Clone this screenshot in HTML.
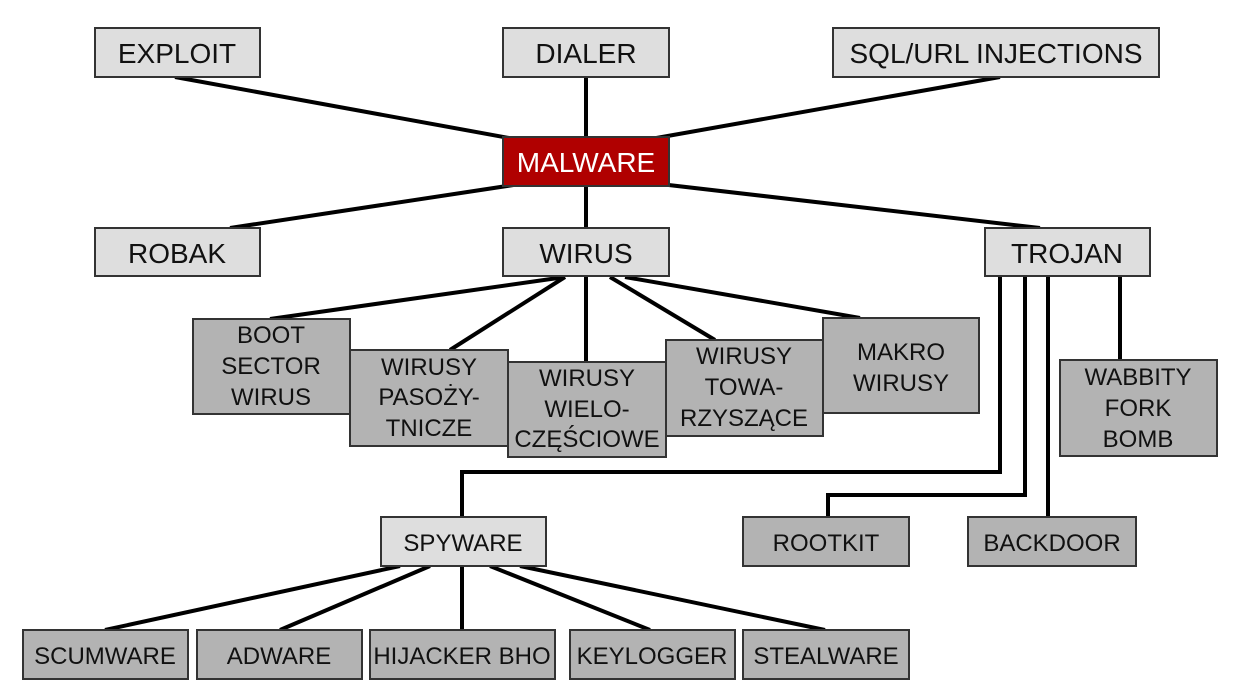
<!DOCTYPE html>
<html><head><meta charset="utf-8"><style>
body{margin:0;background:#fff;}
svg text{font-family:"Liberation Sans",sans-serif;fill:#111;text-anchor:middle;}
</style></head><body>
<svg width="1247" height="692" viewBox="0 0 1247 692" xmlns="http://www.w3.org/2000/svg">
<g stroke="#000" stroke-width="4" fill="none">
<line x1="175" y1="77" x2="520" y2="140"/>
<line x1="586" y1="77" x2="586" y2="137"/>
<line x1="1000" y1="77" x2="645" y2="140"/>
<line x1="520" y1="184" x2="230" y2="228"/>
<line x1="586" y1="186" x2="586" y2="228"/>
<line x1="660" y1="184" x2="1040" y2="228"/>
<line x1="565" y1="277" x2="270" y2="319"/>
<line x1="565" y1="277" x2="450" y2="350"/>
<line x1="586" y1="277" x2="586" y2="362"/>
<line x1="610" y1="277" x2="715" y2="340"/>
<line x1="625" y1="277" x2="860" y2="318"/>
<polyline points="1000,277 1000,472 462,472 462,517"/>
<polyline points="1025,277 1025,495 828,495 828,517"/>
<line x1="1048" y1="277" x2="1048" y2="517"/>
<line x1="1120" y1="277" x2="1120" y2="360"/>
<line x1="400" y1="566" x2="105" y2="630"/>
<line x1="430" y1="566" x2="280" y2="630"/>
<line x1="462" y1="566" x2="462" y2="630"/>
<line x1="490" y1="566" x2="650" y2="630"/>
<line x1="520" y1="566" x2="825" y2="630"/>
</g>
<g stroke="#333" stroke-width="2">
<rect x="95" y="28" width="165" height="49" fill="#dedede"/>
<rect x="503" y="28" width="166" height="49" fill="#dedede"/>
<rect x="833" y="28" width="326" height="49" fill="#dedede"/>
<rect x="503" y="137" width="166" height="49" fill="#b00000"/>
<rect x="95" y="228" width="165" height="48" fill="#dedede"/>
<rect x="503" y="228" width="166" height="48" fill="#dedede"/>
<rect x="985" y="228" width="165" height="48" fill="#dedede"/>
<rect x="193" y="319" width="157" height="95" fill="#b3b3b3"/>
<rect x="350" y="350" width="158" height="96" fill="#b3b3b3"/>
<rect x="508" y="362" width="158" height="95" fill="#b3b3b3"/>
<rect x="666" y="340" width="157" height="96" fill="#b3b3b3"/>
<rect x="823" y="318" width="156" height="95" fill="#b3b3b3"/>
<rect x="1060" y="360" width="157" height="96" fill="#b3b3b3"/>
<rect x="381" y="517" width="165" height="49" fill="#dedede"/>
<rect x="743" y="517" width="166" height="49" fill="#b3b3b3"/>
<rect x="968" y="517" width="168" height="49" fill="#b3b3b3"/>
<rect x="23" y="630" width="165" height="49" fill="#b3b3b3"/>
<rect x="197" y="630" width="165" height="49" fill="#b3b3b3"/>
<rect x="370" y="630" width="185" height="49" fill="#b3b3b3"/>
<rect x="570" y="630" width="165" height="49" fill="#b3b3b3"/>
<rect x="743" y="630" width="166" height="49" fill="#b3b3b3"/>
</g>
<g font-size="28">
<text x="177" y="63">EXPLOIT</text>
<text x="586" y="63">DIALER</text>
<text x="996" y="63">SQL/URL INJECTIONS</text>
<text x="586" y="172" style="fill:#fff">MALWARE</text>
<text x="177" y="263">ROBAK</text>
<text x="586" y="263">WIRUS</text>
<text x="1067" y="263">TROJAN</text>
</g>
<g font-size="24">
<text x="271" y="343">BOOT</text><text x="271" y="374">SECTOR</text><text x="271" y="405">WIRUS</text>
<text x="429" y="375">WIRUSY</text><text x="429" y="405">PASOŻY-</text><text x="429" y="436">TNICZE</text>
<text x="587" y="386">WIRUSY</text><text x="587" y="417">WIELO-</text><text x="587" y="447">CZĘŚCIOWE</text>
<text x="744" y="364">WIRUSY</text><text x="744" y="395">TOWA-</text><text x="744" y="426">RZYSZĄCE</text>
<text x="901" y="360">MAKRO</text><text x="901" y="391">WIRUSY</text>
<text x="1138" y="385">WABBITY</text><text x="1138" y="416">FORK</text><text x="1138" y="447">BOMB</text>
<text x="463" y="551">SPYWARE</text>
<text x="826" y="551">ROOTKIT</text>
<text x="1052" y="551">BACKDOOR</text>
<text x="105" y="664">SCUMWARE</text>
<text x="279" y="664">ADWARE</text>
<text x="462" y="664">HIJACKER BHO</text>
<text x="652" y="664">KEYLOGGER</text>
<text x="826" y="664">STEALWARE</text>
</g>
</svg>
</body></html>
